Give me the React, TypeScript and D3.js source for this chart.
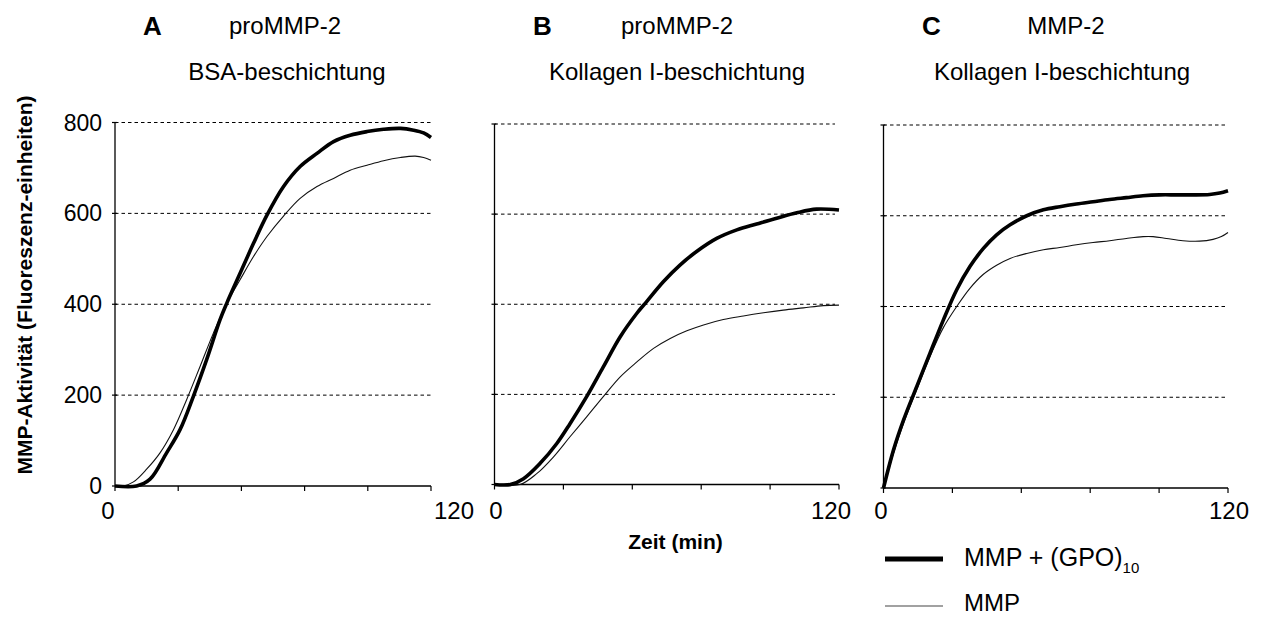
import React from "react";
import * as d3 from "d3";

// Time axis (min) and fluorescence axis ticks
const xTicks = [0, 24, 48, 72, 96, 120];
const yTicks = [0, 200, 400, 600, 800];
const gridValues = [200, 400, 600, 800];

// Series: [Zeit (min), MMP-Aktivität]
const aGpo: [number, number][] = [
  [0, 0], [8.2, 0], [13.3, 15], [19.6, 73], [24.7, 124], [29.8, 198], [34.8, 278],
  [39.9, 366], [42.5, 403], [47.5, 468], [52.6, 534], [57.7, 596], [64, 659],
  [70.3, 703], [76.7, 732], [83, 758], [89.3, 772], [95.7, 780], [102, 785],
  [108.4, 787], [113.4, 783], [117.2, 777], [120, 767],
];
const aMmp: [number, number][] = [
  [0, 0], [3.2, 0], [7, 9], [12, 37], [17.1, 73], [22.2, 124], [27.2, 190],
  [32.3, 263], [37.4, 337], [42.5, 403], [47.5, 454], [52.6, 505], [57.7, 549],
  [64, 594], [70.3, 633], [76.7, 659], [83, 677], [89.3, 695], [95.7, 706],
  [102, 716], [108.4, 723], [114, 726], [117.2, 723], [120, 717],
];
const bGpo: [number, number][] = [
  [0, 0], [5.5, 0], [10.1, 13], [15.9, 47], [21.7, 91], [26.3, 135], [32.1, 195],
  [37.9, 261], [43.8, 328], [49.6, 380], [53, 406], [58.8, 450], [64.6, 487],
  [70.4, 517], [77.4, 546], [84.4, 565], [91.3, 578], [98.3, 591], [105.3, 603],
  [112.2, 611], [120, 609],
];
const bMmp: [number, number][] = [
  [0, 0], [8.9, 0], [14.7, 24], [20.5, 61], [26.3, 106], [32.1, 150], [37.9, 195],
  [43.8, 239], [49.6, 272], [55.4, 302], [61.2, 324], [67, 341], [72.8, 354],
  [79.7, 366], [86.7, 374], [93.7, 381], [100.6, 387], [107.6, 392], [114.5, 397],
  [120, 398],
];
const cGpo: [number, number][] = [
  [0, 0], [3.5, 84], [7, 150], [11.6, 224], [16.2, 297], [20.9, 371], [25.5, 437],
  [30.1, 488], [34.8, 528], [39.4, 558], [44.1, 580], [49.9, 600], [55.7, 613],
  [61.4, 620], [67.2, 626], [73, 631], [78.8, 636], [84.6, 640], [90.4, 644],
  [96.2, 646], [102, 646], [107.8, 646], [113.6, 647], [117.1, 650], [120, 655],
];
const cMmp: [number, number][] = [
  [0, 0], [3.5, 77], [7, 143], [11.6, 217], [16.2, 290], [20.9, 354], [25.5, 400],
  [30.1, 440], [34.8, 471], [39.4, 491], [44.1, 506], [49.9, 517], [55.7, 525],
  [61.4, 530], [67.2, 536], [73, 541], [78.8, 545], [84.6, 550], [90.4, 554],
  [93.9, 554], [98.6, 550], [104.3, 545], [110.1, 544], [114.8, 548],
  [117.7, 554], [120, 563],
];

const panelLetters = ["A", "B", "C"];
const panelEnzymes = ["proMMP-2", "proMMP-2", "MMP-2"];
const panelCoatings = ["BSA-beschichtung", "Kollagen I-beschichtung", "Kollagen I-beschichtung"];
const yAxisTitle = "MMP-Aktivität (Fluoreszenz-einheiten)";
const xAxisTitle = "Zeit (min)";
const legendLabels = ["MMP + (GPO)", "MMP"];
const legendSub = "10";

const FONT = "'Liberation Sans', Arial, Helvetica, sans-serif";

type Layout = {
  x0: number; x1: number; yTop: number; yBot: number;
  gridEnd: number; zeroLabelX: number; endLabelX: number; endAnchor: "start" | "middle";
  letterX: number; enzymeX: number; coatingX: number; showYLabels: boolean;
};

const layouts: Layout[] = [
  { x0: 115, x1: 431, yTop: 122.5, yBot: 486, gridEnd: 431.5, zeroLabelX: 108, endLabelX: 434, endAnchor: "start", letterX: 143, enzymeX: 285, coatingX: 287, showYLabels: true },
  { x0: 494.5, x1: 839, yTop: 124, yBot: 484.5, gridEnd: 835, zeroLabelX: 496, endLabelX: 831, endAnchor: "middle", letterX: 533, enzymeX: 677, coatingX: 677, showYLabels: false },
  { x0: 883.5, x1: 1228, yTop: 125, yBot: 488, gridEnd: 1225, zeroLabelX: 881, endLabelX: 1229, endAnchor: "middle", letterX: 922, enzymeX: 1066, coatingX: 1062, showYLabels: false },
];

const seriesByPanel: [typeof aGpo, typeof aMmp][] = [
  [aGpo, aMmp],
  [bGpo, bMmp],
  [cGpo, cMmp],
];

function Panel({ idx }: { idx: number }) {
  const L = layouts[idx];
  const x = d3.scaleLinear().domain([0, 120]).range([L.x0, L.x1]);
  const y = d3.scaleLinear().domain([0, 800]).range([L.yBot, L.yTop]);
  const line = d3
    .line<[number, number]>()
    .x((d) => x(d[0]))
    .y((d) => Math.min(y(d[1]), L.yBot))
    .curve(d3.curveCatmullRom.alpha(0.5));
  const [gpo, mmp] = seriesByPanel[idx];

  return (
    <g>
      {/* dashed horizontal grid */}
      {gridValues.map((v) => (
        <line
          key={v}
          x1={L.x0}
          x2={L.gridEnd}
          y1={y(v)}
          y2={y(v)}
          stroke="#000"
          strokeWidth={1}
          strokeDasharray="3.5 3"
        />
      ))}
      {/* y axis */}
      <line x1={L.x0} x2={L.x0} y1={y(800)} y2={y(0)} stroke="#000" strokeWidth={1.3} />
      {yTicks.map((v) => (
        <line key={v} x1={L.x0 - 3} x2={L.x0 + 2} y1={y(v)} y2={y(v)} stroke="#000" strokeWidth={1.2} />
      ))}
      {/* x axis */}
      <line x1={L.x0} x2={L.x1} y1={y(0)} y2={y(0)} stroke="#000" strokeWidth={1.3} />
      {xTicks.map((t) => (
        <line key={t} x1={x(t)} x2={x(t)} y1={y(0)} y2={y(0) + 5} stroke="#000" strokeWidth={1.2} />
      ))}
      {/* curves */}
      <path d={line(mmp) ?? ""} fill="none" stroke="#111" strokeWidth={1.1} />
      <path d={line(gpo) ?? ""} fill="none" stroke="#000" strokeWidth={3.6} strokeLinejoin="round" />
      {/* x tick labels */}
      <text x={L.zeroLabelX} y={519} fontSize={24} fontFamily={FONT} textAnchor="middle">
        {xTicks[0]}
      </text>
      <text x={L.endLabelX} y={519} fontSize={24} fontFamily={FONT} textAnchor={L.endAnchor}>
        {xTicks[xTicks.length - 1]}
      </text>
      {/* y tick labels */}
      {L.showYLabels &&
        yTicks.map((v) => (
          <text
            key={v}
            x={102}
            y={y(v)}
            dy="0.35em"
            fontSize={23}
            fontFamily={FONT}
            textAnchor="end"
          >
            {v}
          </text>
        ))}
      {/* titles */}
      <text x={L.letterX} y={35} fontSize={26} fontWeight="bold" fontFamily={FONT}>
        {panelLetters[idx]}
      </text>
      <text x={L.enzymeX} y={34} fontSize={24} fontFamily={FONT} textAnchor="middle">
        {panelEnzymes[idx]}
      </text>
      <text x={L.coatingX} y={80} fontSize={24} fontFamily={FONT} textAnchor="middle">
        {panelCoatings[idx]}
      </text>
    </g>
  );
}

export default function App() {
  return (
    <svg
      width={1264}
      height={617}
      style={{ position: "absolute", left: 0, top: 0, display: "block", background: "#fff" }}
    >
      <rect x={0} y={0} width={1264} height={617} fill="#fff" />
      {layouts.map((_, i) => (
        <Panel key={i} idx={i} />
      ))}
      {/* y axis title */}
      <text
        transform="translate(32, 285) rotate(-90)"
        fontSize={21}
        fontWeight="bold"
        fontFamily={FONT}
        textAnchor="middle"
      >
        {yAxisTitle}
      </text>
      {/* x axis title */}
      <text x={675.5} y={549} fontSize={21} fontWeight="bold" fontFamily={FONT} textAnchor="middle">
        {xAxisTitle}
      </text>
      {/* legend */}
      <line x1={885} x2={943} y1={559} y2={559} stroke="#000" strokeWidth={5} />
      <text x={964} y={566} fontSize={25} fontFamily={FONT}>
        {legendLabels[0]}
        <tspan fontSize={15} dy={7}>
          {legendSub}
        </tspan>
      </text>
      <line x1={885} x2={943} y1={606} y2={606} stroke="#444" strokeWidth={1.2} />
      <text x={964} y={611} fontSize={24} fontFamily={FONT}>
        {legendLabels[1]}
      </text>
    </svg>
  );
}
